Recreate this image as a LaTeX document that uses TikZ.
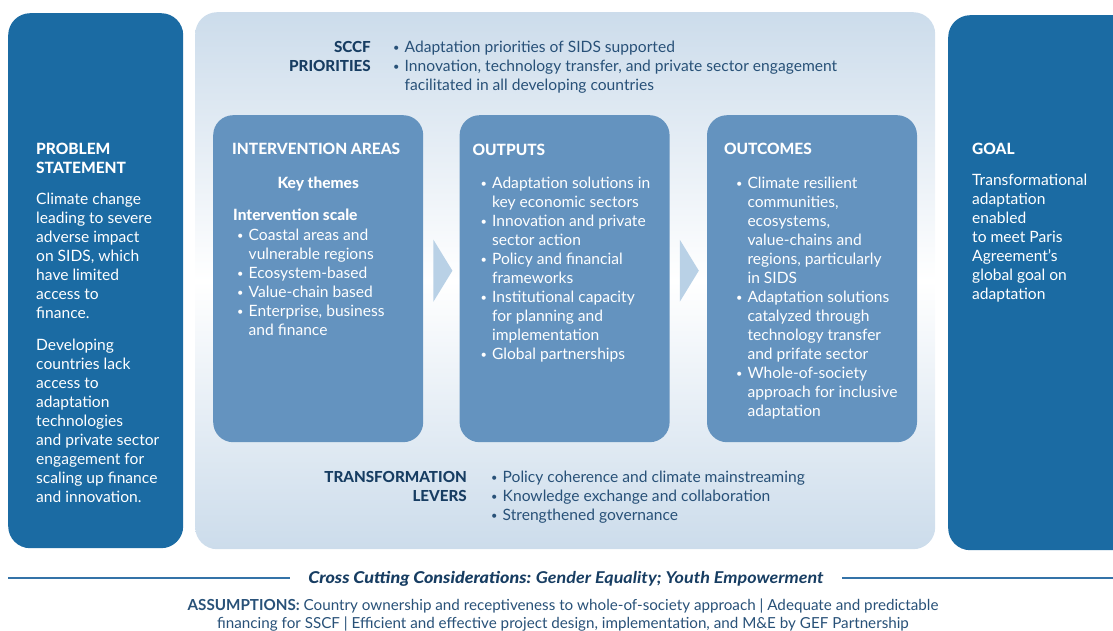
\documentclass[tikz,border=0pt]{standalone}
\usepackage{fontspec}
\setmainfont{Lato}[BoldFont={Lato Heavy}, BoldItalicFont={Lato Heavy Italic}]
\newfontfamily\latobold{Lato}
\newfontfamily\crossfont{Lato}[FakeStretch=1.1, BoldItalicFont={Lato Heavy Italic}]
\newfontfamily\crosslight{Lato}[FakeStretch=1.1]
\usetikzlibrary{positioning,calc}

\definecolor{goalblue}{HTML}{1B6BA3}
\definecolor{stepblue}{HTML}{6493BF}
\definecolor{paleblue}{HTML}{CCDCEB}
\definecolor{chevblue}{HTML}{B9D1E6}
\definecolor{navy}{HTML}{173D62}
\definecolor{ink}{HTML}{285178}
\definecolor{rulecol}{HTML}{3473A8}

\newcommand{\bodyfont}{\fontsize{15.6}{19}\selectfont}
\newcommand{\bitem}{\makebox[11.5pt][l]{\raisebox{0.8pt}{\fontsize{11}{19}\selectfont\textbullet}}}
\newcommand{\bcont}{\hspace*{11.5pt}}

\tikzstyle{panel}=[rectangle, rounded corners=22pt, inner sep=0pt, anchor=north west]
\tikzstyle{sidebox}=[panel, fill=goalblue, minimum height=535pt]
\tikzstyle{corebox}=[panel, top color=paleblue, bottom color=paleblue, middle color=white]
\tikzstyle{stepbox}=[panel, rounded corners=20pt, fill=stepblue, minimum width=210pt, minimum height=327pt]
\tikzstyle{txt}=[inner sep=0pt, anchor=north west, align=left, font=\bodyfont]
\tikzstyle{whitehead}=[txt, text=white, font=\fontsize{15.5}{19}\selectfont\bfseries]
\tikzstyle{whitetxt}=[txt, text=white]
\tikzstyle{navyhead}=[txt, text=navy, font=\fontsize{15.2}{19}\selectfont\bfseries, align=right]
\tikzstyle{inktxt}=[txt, text=ink]
\tikzstyle{chevron}=[fill=chevblue]
\tikzstyle{rule}=[draw=rulecol, line width=1.3pt]

\begin{document}
\begin{tikzpicture}[x=1pt, y=-1pt]
    \useasboundingbox (0,0) rectangle (1113,631);

    % PANELS
    \node[sidebox, minimum width=175pt] (problem) at (8,13) {};
    \node[corebox, minimum width=740pt, minimum height=537pt] (core) at (195,12) {};
    \node[sidebox, minimum width=200pt] (goal) at (948,15) {};

    % PROBLEM STATEMENT
    \node[whitehead, below right=130pt and 28pt of problem.north west] (problemHead) {PROBLEM\\STATEMENT};
    \node[whitetxt, below right=180pt and 28pt of problem.north west] (problemTxt) {Climate change\\leading to severe\\adverse impact\\on SIDS, which\\have limited\\access to\\finance.\\[13pt]Developing\\countries lack\\access to\\adaptation\\technologies\\and private sector\\engagement for\\scaling up finance\\and innovation.};

    % GOAL
    \node[whitehead, below right=128pt and 24pt of goal.north west] (goalHead) {GOAL};
    \node[whitetxt, below right=159pt and 24pt of goal.north west] (goalTxt) {Transformational\\adaptation\\enabled\\to meet Paris\\Agreement’s\\global goal on\\adaptation};

    % SCCF PRIORITIES
    \node[inktxt, below right=29pt and 198pt of core.north west] (sccfList) {\bitem Adaptation priorities of SIDS supported\\\bitem Innovation, technology transfer, and private sector engagement\\\bcont facilitated in all developing countries};
    \node[navyhead, left=22pt of sccfList.north west, anchor=north east] (sccfHead) {SCCF\\PRIORITIES};

    % INTERVENTION AREAS
    \node[stepbox] (areas) at (213,115) {};
    \node[whitehead, below right=28pt and 19pt of areas.north west] (areasHead) {INTERVENTION AREAS};
    \node[whitehead, below=62pt of areas.north] (themes) {Key themes};
    \node[whitehead, below right=94pt and 20pt of areas.north west] (scale) {Intervention scale};
    \node[whitetxt, below right=114pt and 24pt of areas.north west] (areasList) {\bitem Coastal areas and\\\bcont vulnerable regions\\\bitem Ecosystem-based\\\bitem Value-chain based\\\bitem Enterprise, business\\\bcont and finance};

    % OUTPUTS
    \node[stepbox, right=36pt of areas] (outputs) {};
    \node[whitehead, below right=29pt and 13pt of outputs.north west] (outputsHead) {OUTPUTS};
    \node[whitetxt, below right=62pt and 21pt of outputs.north west] (outputsList) {\bitem Adaptation solutions in\\\bcont key economic sectors\\\bitem Innovation and private\\\bcont sector action\\\bitem Policy and financial\\\bcont frameworks\\\bitem Institutional capacity\\\bcont for planning and\\\bcont implementation\\\bitem Global partnerships};

    % OUTCOMES
    \node[stepbox, right=37pt of outputs] (outcomes) {};
    \node[whitehead, below right=28pt and 17pt of outcomes.north west] (outcomesHead) {OUTCOMES};
    \node[whitetxt, below right=62pt and 29pt of outcomes.north west] (outcomesList) {\bitem Climate resilient\\\bcont communities,\\\bcont ecosystems,\\\bcont value-chains and\\\bcont regions, particularly\\\bcont in SIDS\\\bitem Adaptation solutions\\\bcont catalyzed through\\\bcont technology transfer\\\bcont and prifate sector\\\bitem Whole-of-society\\\bcont approach for inclusive\\\bcont adaptation};

    % chevrons between the steps
    \fill[chevron] ($(areas.east)+(10,-39)$) -- ++(0,62) -- ++(19,-31) -- cycle;
    \fill[chevron] ($(outputs.east)+(10,-39)$) -- ++(0,62) -- ++(19,-31) -- cycle;

    % TRANSFORMATION LEVERS
    \node[inktxt, below right=459pt and 296pt of core.north west] (leversList) {\bitem Policy coherence and climate mainstreaming\\\bitem Knowledge exchange and collaboration\\\bitem Strengthened governance};
    \node[navyhead, left=24pt of leversList.north west, anchor=north east] (leversHead) {TRANSFORMATION\\LEVERS};

    % CROSS CUTTING
    \coordinate (ruleL) at (8,578);
    \coordinate (ruleR) at (1113,578);
    \node[inner sep=0pt, text=navy, font=\fontsize{16.3}{19}\selectfont\itshape\bfseries] (cross) at (566,579) {{\crossfont Cross Cutting Considerations:} {\crosslight Gender Equality; Youth Empowerment}};
    \draw[rule, shorten >=18pt] (ruleL) -- (ruleL -| cross.west);
    \draw[rule, shorten >=18pt] (ruleR) -- (ruleR -| cross.east);

    % ASSUMPTIONS
    \node[inktxt, align=center, anchor=north, font=\fontsize{15.2}{18}\selectfont] (assume) at (563,599) {{\latobold\bfseries ASSUMPTIONS:} Country ownership and receptiveness to whole-of-society approach | Adequate and predictable\\financing for SSCF | Efficient and effective project design, implementation, and M\&E by GEF Partnership};

\end{tikzpicture}
\end{document}
